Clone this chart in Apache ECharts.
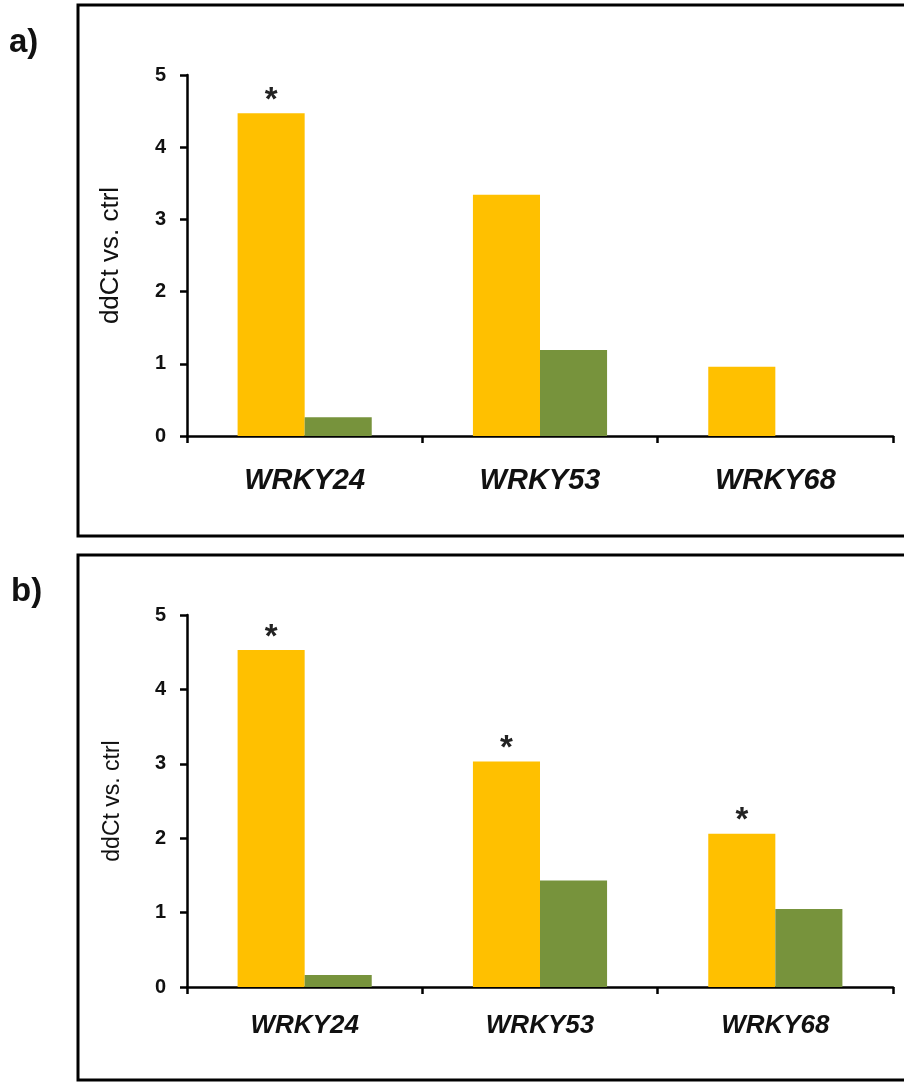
<!DOCTYPE html>
<html>
<head>
<meta charset="utf-8">
<script src="https://cdn.jsdelivr.net/npm/echarts@6/dist/echarts.min.js"></script>
<style>html,body{margin:0;padding:0;background:#fff;}#c{width:904px;height:1082px;}</style>
</head>
<body>
<div id="c"></div>
<script>
const categories = ['WRKY24', 'WRKY53', 'WRKY68'];
const yellowA = [4.47, 3.34, 0.96];
const greenA = [0.26, 1.19, 0];
const sigA = [true, false, false];
const yellowB = [4.53, 3.03, 2.06];
const greenB = [0.16, 1.43, 1.05];
const sigB = [true, true, true];
const yMin = 0, yMax = 5, yStep = 1;
const yName = 'ddCt vs. ctrl';

const FONT = '"Liberation Sans", Arial, Helvetica, sans-serif';
const YELLOW = '#FFC000';
const GREEN = '#77933C';

function xAxis(idx, size, margin) {
  return {
    type: 'category', gridIndex: idx, data: categories,
    axisLine: { lineStyle: { color: '#000', width: 2.5 } },
    axisTick: { show: true, length: 7, lineStyle: { color: '#000', width: 2.5 } },
    axisLabel: { color: '#111', fontFamily: FONT, fontWeight: 'bold', fontStyle: 'italic', fontSize: size, margin: margin },
    splitLine: { show: false }
  };
}
function yAxis(idx, nameSize, gap) {
  return {
    type: 'value', gridIndex: idx, min: yMin, max: yMax, interval: yStep,
    name: yName, nameLocation: 'middle', nameGap: gap,
    nameTextStyle: { color: '#111', fontFamily: FONT, fontSize: nameSize },
    axisLine: { show: true, lineStyle: { color: '#000', width: 2.5 } },
    axisTick: { show: true, length: 7, lineStyle: { color: '#000', width: 2.5 } },
    axisLabel: { color: '#111', fontFamily: FONT, fontWeight: 'bold', fontSize: 20, margin: 21 },
    splitLine: { show: false }
  };
}
function starLabel(sig) {
  return {
    show: true, position: 'top', distance: 0, offset: [0, 4],
    formatter: p => sig[p.dataIndex] ? '*' : '',
    color: '#222', fontFamily: FONT, fontWeight: 'bold', fontSize: 33
  };
}
function bars(idx, yv, gv, sig) {
  return [
    { type: 'bar', xAxisIndex: idx, yAxisIndex: idx, data: yv, barGap: '0%', barCategoryGap: '43%',
      itemStyle: { color: YELLOW }, label: starLabel(sig), silent: true },
    { type: 'bar', xAxisIndex: idx, yAxisIndex: idx, data: gv, barGap: '0%', barCategoryGap: '43%',
      itemStyle: { color: GREEN }, silent: true }
  ];
}

const chart = echarts.init(document.getElementById('c'), null, { renderer: 'canvas' });
chart.setOption({
  animation: false,
  backgroundColor: '#fff',
  grid: [
    { left: 187, right: 11, top: 75, bottom: 1082 - 436 },
    { left: 187, right: 11, top: 615, bottom: 1082 - 987 }
  ],
  xAxis: [xAxis(0, 29, 30), xAxis(1, 26, 26)],
  yAxis: [yAxis(0, 26, 63), yAxis(1, 23, 63)],
  series: [...bars(0, yellowA, greenA, sigA), ...bars(1, yellowB, greenB, sigB)],
  graphic: [
    { type: 'rect', shape: { x: 78, y: 5, width: 900, height: 531 }, style: { fill: 'none', stroke: '#000', lineWidth: 3 } },
    { type: 'rect', shape: { x: 78, y: 555, width: 900, height: 525 }, style: { fill: 'none', stroke: '#000', lineWidth: 3 } },
    { type: 'text', left: 9, top: 26, style: { text: 'a)', fontFamily: FONT, fontWeight: 'bold', fontSize: 33, fill: '#111' } },
    { type: 'text', left: 11, top: 575, style: { text: 'b)', fontFamily: FONT, fontWeight: 'bold', fontSize: 33, fill: '#111' } }
  ]
});
</script>
</body>
</html>
